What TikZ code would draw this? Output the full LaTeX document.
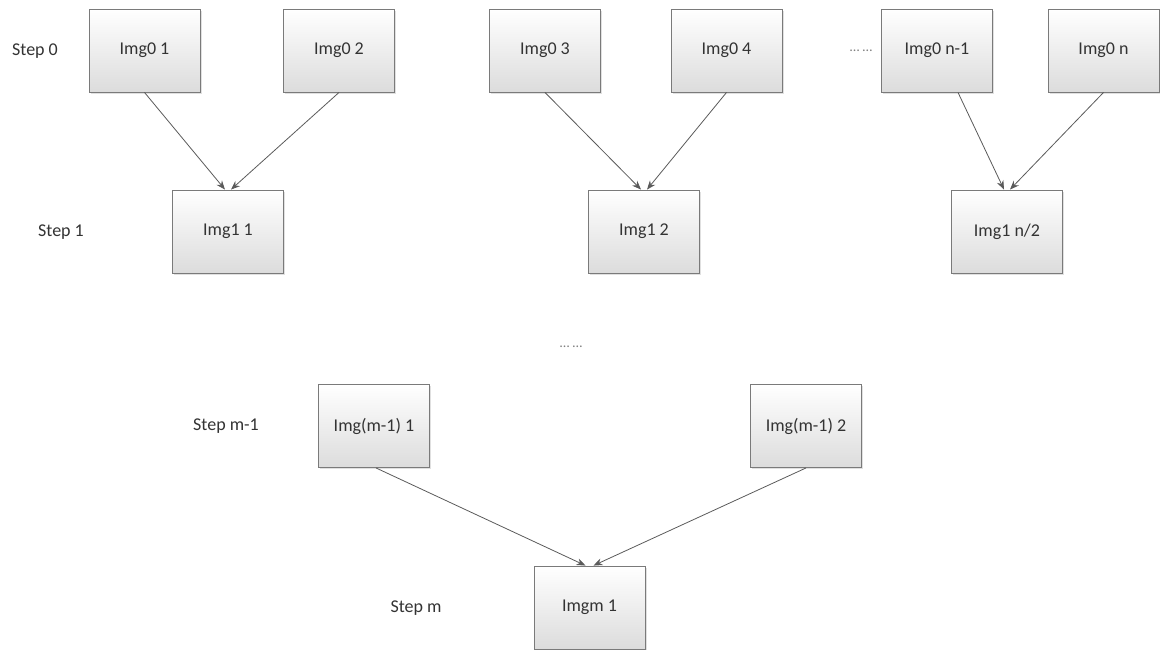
\documentclass[tikz,border=0pt]{standalone}
\usepackage{fontspec}
\setmainfont{Carlito}
\usetikzlibrary{arrows.meta,shadows}
\definecolor{boxline}{HTML}{7A7A7A}
\definecolor{boxbot}{HTML}{DCDCDC}
\definecolor{txt}{HTML}{333333}
\definecolor{arr}{HTML}{5A5A5A}
\tikzset{
  imgbox/.style={draw=boxline, line width=0.9pt, top color=white, bottom color=boxbot,
    minimum width=111pt, minimum height=83pt, inner sep=0pt, text=txt,
    font=\fontsize{18}{21}\selectfont,
    drop shadow={shadow xshift=1.5pt, shadow yshift=-1.5pt, fill=black, opacity=0.12}},
  steplabel/.style={text=txt, font=\fontsize{18}{21}\selectfont, inner sep=0pt},
  dotslabel/.style={text=gray, font=\fontsize{14}{16}\selectfont, inner sep=0pt},
  conn/.style={draw=arr, line width=0.8pt, -{Stealth[length=9pt,width=7pt]}}
}
\begin{document}
\begin{tikzpicture}[x=1pt,y=-1pt]
\useasboundingbox (0,0) rectangle (1160,649);
% step 0
\node[imgbox] (a1) at (144.5,50.5) {Img0 1};
\node[imgbox] (a2) at (339,50.5) {Img0 2};
\node[imgbox] (a3) at (545,50.5) {Img0 3};
\node[imgbox] (a4) at (726.5,50.5) {Img0 4};
\node[imgbox] (an1) at (937,50.5) {Img0 n-1};
\node[imgbox] (an) at (1103.5,50.5) {Img0 n};
% step 1
\node[imgbox] (b1) at (228,231.5) {Img1 1};
\node[imgbox] (b2) at (644,231.5) {Img1 2};
\node[imgbox] (bn) at (1007,231.5) {Img1 n/2};
% step m-1
\node[imgbox] (c1) at (374,426) {Img(m-1) 1};
\node[imgbox] (c2) at (806,426) {Img(m-1) 2};
% step m
\node[imgbox] (d1) at (589.5,607.5) {Imgm 1};
% labels
\node[steplabel] (s0) at (35,51) {Step 0};
\node[steplabel] (s1) at (61,232) {Step 1};
\node[steplabel] (sm1) at (226,426) {Step m-1};
\node[steplabel] (sm) at (416,608) {Step m};
\node[dotslabel] (dots1) at (861,51) {… …};
\node[dotslabel] (dots2) at (571,347) {… …};
% connectors
\draw[conn] (a1.south) -- ([xshift=-3pt]b1.north);
\draw[conn] (a2.south) -- ([xshift=3pt]b1.north);
\draw[conn] (a3.south) -- ([xshift=-3pt]b2.north);
\draw[conn] (a4.south) -- ([xshift=3pt]b2.north);
\draw[conn] ([xshift=21pt]an1.south) -- ([xshift=-3pt]bn.north);
\draw[conn] (an.south) -- ([xshift=3pt]bn.north);
\draw[conn] ([xshift=2pt]c1.south) -- ([xshift=-4pt]d1.north);
\draw[conn] (c2.south) -- ([xshift=4pt]d1.north);
\end{tikzpicture}
\end{document}
